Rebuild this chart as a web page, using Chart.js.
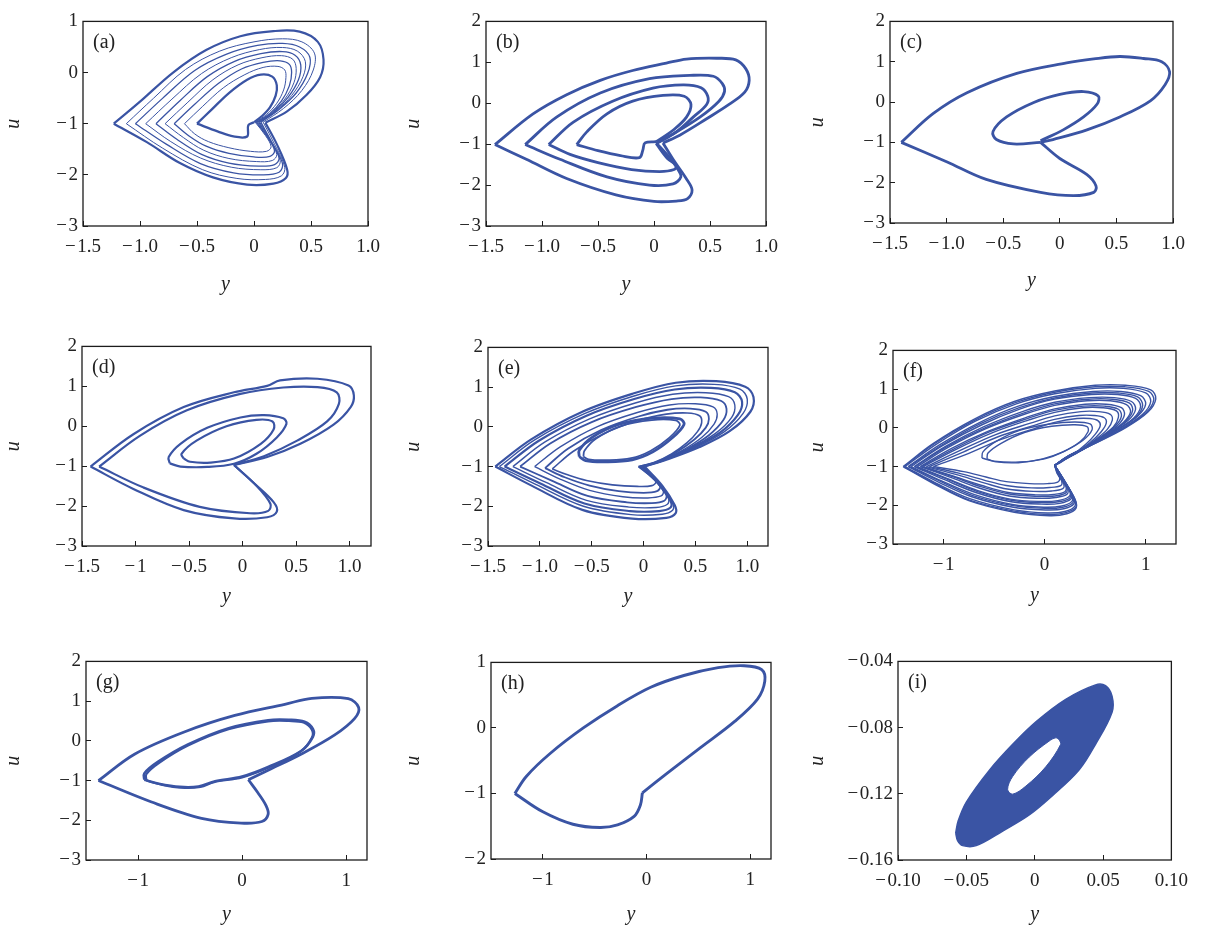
<!DOCTYPE html>
<html>
<head>
<meta charset="utf-8">
<script src="https://cdn.jsdelivr.net/npm/chart.js@4.4.1/dist/chart.umd.min.js"></script>
<style>
  html, body { margin: 0; padding: 0; background: #fff; }
  body { width: 1208px; height: 926px; position: relative; overflow: hidden; }
  canvas { position: absolute; }
</style>
</head>
<body>
<script>
// ---- data: (y, u) points along each trajectory ----

// (a)
const aUpper = [
  [[-1.23,-1.0],[-1.0,-0.57],[-0.71,0.0],[-0.42,0.44],[-0.12,0.71],[0.17,0.81],[0.40,0.80],[0.56,0.60],[0.61,0.25],[0.58,-0.09],[0.46,-0.44],[0.29,-0.76],[0.10,-0.98]],
  [[-1.12,-1.0],[-0.88,-0.5],[-0.6,0.06],[-0.3,0.42],[0.0,0.6],[0.25,0.66],[0.42,0.6],[0.53,0.38],[0.52,0.05],[0.42,-0.35],[0.26,-0.7],[0.08,-0.97]],
  [[-1.04,-1.0],[-0.8,-0.5],[-0.52,0.04],[-0.24,0.36],[0.03,0.53],[0.25,0.57],[0.4,0.5],[0.49,0.3],[0.47,-0.02],[0.37,-0.4],[0.22,-0.72],[0.06,-0.97]],
  [[-0.95,-1.0],[-0.72,-0.52],[-0.46,-0.02],[-0.2,0.29],[0.05,0.45],[0.25,0.49],[0.38,0.42],[0.45,0.22],[0.43,-0.08],[0.33,-0.45],[0.2,-0.74],[0.05,-0.97]],
  [[-0.86,-1.0],[-0.65,-0.55],[-0.41,-0.08],[-0.17,0.22],[0.06,0.37],[0.25,0.41],[0.36,0.34],[0.41,0.15],[0.39,-0.14],[0.3,-0.48],[0.18,-0.76],[0.04,-0.97]],
  [[-0.78,-1.0],[-0.58,-0.58],[-0.36,-0.14],[-0.14,0.15],[0.07,0.29],[0.24,0.33],[0.34,0.26],[0.37,0.08],[0.35,-0.2],[0.27,-0.52],[0.16,-0.78],[0.03,-0.97]],
  [[-0.7,-1.0],[-0.52,-0.62],[-0.31,-0.21],[-0.11,0.07],[0.08,0.2],[0.23,0.23],[0.31,0.16],[0.33,0.0],[0.31,-0.26],[0.24,-0.56],[0.14,-0.8],[0.02,-0.97]],
  [[-0.61,-1.0],[-0.45,-0.66],[-0.27,-0.3],[-0.08,-0.04],[0.08,0.1],[0.21,0.12],[0.27,0.05],[0.28,-0.1],[0.26,-0.34],[0.2,-0.6],[0.11,-0.82],[0.01,-0.97]],
  [[-0.5,-1.0],[-0.37,-0.72],[-0.22,-0.4],[-0.06,-0.14],[0.06,-0.04],[0.16,-0.08],[0.2,-0.25],[0.19,-0.45],[0.14,-0.68],[0.07,-0.85],[0.0,-0.97]]
];
const aLower = [
  [[0.10,-0.98],[0.20,-1.40],[0.29,-1.89],[0.28,-2.06],[0.17,-2.17],[-0.06,-2.19],[-0.36,-2.05],[-0.65,-1.77],[-0.94,-1.36],[-1.23,-1.0]],
  [[0.08,-0.97],[0.18,-1.4],[0.27,-1.85],[0.24,-2.02],[0.1,-2.09],[-0.15,-2.07],[-0.45,-1.9],[-0.8,-1.48],[-1.12,-1.0]],
  [[0.06,-0.97],[0.16,-1.38],[0.25,-1.78],[0.22,-1.95],[0.08,-2.0],[-0.18,-1.96],[-0.47,-1.78],[-0.77,-1.4],[-1.04,-1.0]],
  [[0.05,-0.97],[0.15,-1.35],[0.23,-1.72],[0.2,-1.86],[0.06,-1.9],[-0.2,-1.85],[-0.47,-1.67],[-0.73,-1.35],[-0.95,-1.0]],
  [[0.04,-0.97],[0.14,-1.32],[0.22,-1.67],[0.18,-1.8],[0.04,-1.83],[-0.22,-1.77],[-0.46,-1.6],[-0.68,-1.3],[-0.86,-1.0]],
  [[0.03,-0.97],[0.13,-1.3],[0.2,-1.6],[0.16,-1.72],[0.02,-1.74],[-0.22,-1.68],[-0.44,-1.52],[-0.62,-1.27],[-0.78,-1.0]],
  [[0.02,-0.97],[0.12,-1.27],[0.18,-1.53],[0.14,-1.64],[0.0,-1.65],[-0.22,-1.58],[-0.42,-1.44],[-0.57,-1.24],[-0.7,-1.0]],
  [[0.01,-0.97],[0.1,-1.23],[0.15,-1.45],[0.11,-1.54],[-0.03,-1.54],[-0.22,-1.47],[-0.4,-1.35],[-0.52,-1.2],[-0.61,-1.0]],
  [[0.0,-0.97],[-0.05,-1.03],[-0.06,-1.25],[-0.18,-1.25],[-0.32,-1.15],[-0.5,-1.0]]
];

// (b)
const bUpper = [
  [[-1.42,-1.01],[-1.08,-0.26],[-0.78,0.21],[-0.48,0.56],[-0.19,0.8],[0.11,0.98],[0.29,1.08],[0.56,1.1],[0.73,1.06],[0.82,0.84],[0.85,0.56],[0.81,0.27],[0.67,-0.03],[0.47,-0.38],[0.23,-0.78],[0.08,-0.97]],
  [[-1.15,-1.01],[-0.87,-0.34],[-0.48,0.25],[-0.04,0.6],[0.32,0.68],[0.53,0.66],[0.61,0.48],[0.63,0.29],[0.58,0.05],[0.41,-0.34],[0.17,-0.75],[0.02,-0.97]],
  [[-0.94,-1.01],[-0.72,-0.46],[-0.37,0.05],[-0.01,0.37],[0.26,0.45],[0.42,0.38],[0.48,0.17],[0.47,-0.03],[0.35,-0.34],[0.2,-0.7],[0.02,-0.99]],
  [[-0.69,-1.01],[-0.6,-0.7],[-0.42,-0.26],[-0.19,0.05],[0.08,0.19],[0.27,0.17],[0.33,-0.03],[0.29,-0.34],[0.17,-0.66],[0.02,-0.94]]
];
const bLower = [
  [[0.08,-0.97],[0.17,-1.37],[0.29,-1.85],[0.34,-2.12],[0.3,-2.33],[0.2,-2.39],[0.0,-2.4],[-0.34,-2.24],[-0.78,-1.84],[-1.14,-1.37],[-1.42,-1.01]],
  [[0.02,-0.97],[0.13,-1.3],[0.21,-1.6],[0.24,-1.8],[0.17,-1.97],[-0.04,-2.0],[-0.42,-1.8],[-0.84,-1.37],[-1.15,-1.01]],
  [[0.02,-0.99],[0.12,-1.35],[0.2,-1.52],[0.18,-1.62],[0.05,-1.67],[-0.2,-1.62],[-0.5,-1.45],[-0.75,-1.25],[-0.94,-1.01]],
  [[0.02,-0.94],[-0.08,-0.97],[-0.1,-1.15],[-0.13,-1.33],[-0.3,-1.28],[-0.5,-1.16],[-0.69,-1.01]]
];

// (c)
const cUpper = [
  [[-1.4,-1.0],[-1.12,-0.29],[-0.82,0.23],[-0.38,0.71],[0.06,0.97],[0.3,1.07],[0.53,1.13],[0.74,1.08],[0.9,1.0],[0.97,0.75],[0.93,0.43],[0.8,0.03],[0.53,-0.37],[0.24,-0.69],[-0.06,-0.93],[-0.17,-1.0]]
];
const cLower = [
  [[-0.17,-1.0],[0.0,-1.4],[0.24,-1.8],[0.32,-2.08],[0.3,-2.24],[0.12,-2.32],[-0.17,-2.24],[-0.65,-1.92],[-1.0,-1.48],[-1.4,-1.0]]
];
const cInner = [
  [[-0.17,-1.0],[-0.41,-1.04],[-0.56,-0.93],[-0.59,-0.73],[-0.47,-0.37],[-0.23,-0.01],[0.0,0.19],[0.21,0.26],[0.34,0.15],[0.33,-0.05],[0.21,-0.37],[0.03,-0.69],[-0.17,-0.96]]
];

// (d)
const dUpper = [
  [[-1.42,-1.01],[-1.02,-0.2],[-0.55,0.48],[-0.08,0.85],[0.23,1.01],[0.35,1.15],[0.7,1.19],[0.99,1.02],[1.04,0.77],[1.01,0.48],[0.85,0.04],[0.54,-0.44],[0.23,-0.77],[-0.08,-0.97]],
  [[-1.34,-1.01],[-0.96,-0.24],[-0.52,0.4],[-0.02,0.81],[0.38,0.97],[0.7,0.98],[0.88,0.85],[0.9,0.56],[0.79,0.12],[0.51,-0.36],[0.2,-0.75],[-0.08,-0.97]]
];
const dLower = [
  [[-0.08,-0.97],[0.1,-1.41],[0.29,-1.9],[0.32,-2.14],[0.23,-2.28],[-0.08,-2.31],[-0.55,-2.1],[-1.02,-1.57],[-1.42,-1.01]],
  [[-0.08,-0.97],[0.13,-1.49],[0.26,-1.94],[0.24,-2.12],[0.07,-2.18],[-0.4,-2.02],[-0.93,-1.53],[-1.34,-1.01]]
];
const dInner = [
  [[-0.68,-0.93],[-0.69,-0.77],[-0.58,-0.44],[-0.33,-0.04],[-0.02,0.22],[0.2,0.28],[0.38,0.2],[0.41,0.06],[0.32,-0.28],[0.13,-0.69],[-0.08,-0.94],[-0.33,-1.02],[-0.58,-1.01],[-0.68,-0.93]],
  [[-0.55,-0.81],[-0.57,-0.69],[-0.43,-0.36],[-0.15,0.0],[0.13,0.16],[0.28,0.12],[0.29,-0.08],[0.17,-0.44],[-0.08,-0.81],[-0.3,-0.91],[-0.49,-0.89],[-0.55,-0.81]]
];

// (e)
const eUpper = [
  [[-1.43,-1.0],[-1.08,-0.31],[-0.59,0.38],[-0.11,0.83],[0.31,1.11],[0.7,1.15],[0.98,1.01],[1.06,0.75],[1.03,0.38],[0.83,-0.11],[0.54,-0.51],[0.22,-0.83],[0.01,-1.0]],
  [[-1.39,-1.0],[-1.05,-0.33],[-0.57,0.33],[-0.1,0.77],[0.31,1.03],[0.68,1.07],[0.93,0.95],[1.0,0.7],[0.96,0.34],[0.78,-0.12],[0.5,-0.52],[0.2,-0.83],[0.0,-1.0]],
  [[-1.34,-1.0],[-1.01,-0.35],[-0.55,0.28],[-0.09,0.7],[0.3,0.94],[0.65,0.98],[0.88,0.87],[0.95,0.63],[0.91,0.3],[0.74,-0.14],[0.47,-0.53],[0.19,-0.84],[0.0,-1.0]],
  [[-1.26,-1.0],[-0.95,-0.38],[-0.52,0.2],[-0.08,0.6],[0.28,0.82],[0.6,0.86],[0.82,0.76],[0.88,0.55],[0.85,0.24],[0.69,-0.17],[0.44,-0.55],[0.18,-0.85],[-0.01,-1.0]],
  [[-1.19,-1.0],[-0.9,-0.42],[-0.5,0.12],[-0.07,0.5],[0.27,0.7],[0.55,0.74],[0.75,0.65],[0.8,0.45],[0.77,0.17],[0.63,-0.21],[0.41,-0.57],[0.17,-0.86],[-0.02,-1.0]],
  [[-1.05,-1.0],[-0.8,-0.5],[-0.45,0.0],[-0.06,0.36],[0.25,0.55],[0.5,0.58],[0.67,0.5],[0.71,0.32],[0.68,0.07],[0.56,-0.27],[0.37,-0.6],[0.15,-0.87],[-0.03,-1.0]],
  [[-0.95,-1.04],[-0.73,-0.55],[-0.41,-0.08],[-0.05,0.26],[0.23,0.43],[0.45,0.46],[0.6,0.38],[0.63,0.2],[0.6,-0.02],[0.49,-0.32],[0.32,-0.63],[0.13,-0.88],[-0.04,-1.0]],
  [[-0.88,-1.06],[-0.68,-0.62],[-0.38,-0.17],[-0.04,0.17],[0.22,0.32],[0.42,0.35],[0.54,0.28],[0.56,0.1],[0.52,-0.12],[0.42,-0.4],[0.27,-0.68],[0.1,-0.9],[-0.05,-1.0]]
];
const eLower = [
  [[0.01,-1.0],[0.18,-1.48],[0.3,-1.97],[0.31,-2.17],[0.22,-2.29],[-0.11,-2.31],[-0.59,-2.09],[-1.08,-1.48],[-1.43,-1.0]],
  [[0.0,-1.0],[0.16,-1.47],[0.28,-1.93],[0.28,-2.1],[0.18,-2.2],[-0.12,-2.21],[-0.58,-2.0],[-1.04,-1.45],[-1.39,-1.0]],
  [[0.0,-1.0],[0.15,-1.44],[0.26,-1.87],[0.26,-2.03],[0.15,-2.12],[-0.13,-2.12],[-0.57,-1.93],[-1.0,-1.42],[-1.34,-1.0]],
  [[-0.01,-1.0],[0.14,-1.4],[0.24,-1.8],[0.23,-1.95],[0.12,-2.03],[-0.14,-2.02],[-0.55,-1.85],[-0.94,-1.4],[-1.26,-1.0]],
  [[-0.02,-1.0],[0.12,-1.37],[0.22,-1.72],[0.2,-1.86],[0.08,-1.92],[-0.16,-1.9],[-0.54,-1.74],[-0.88,-1.36],[-1.19,-1.0]],
  [[-0.03,-1.0],[0.1,-1.32],[0.19,-1.62],[0.17,-1.74],[0.04,-1.79],[-0.2,-1.76],[-0.52,-1.6],[-0.8,-1.32],[-1.05,-1.0]],
  [[-0.04,-1.0],[0.08,-1.27],[0.16,-1.5],[0.13,-1.62],[0.0,-1.66],[-0.24,-1.62],[-0.52,-1.48],[-0.76,-1.27],[-0.95,-1.04]],
  [[-0.05,-1.0],[0.05,-1.2],[0.12,-1.38],[0.08,-1.48],[-0.06,-1.5],[-0.3,-1.46],[-0.55,-1.35],[-0.74,-1.2],[-0.88,-1.06]]
];
const eInner = [
  [[-0.62,-0.75],[-0.62,-0.59],[-0.5,-0.27],[-0.24,0.06],[0.09,0.22],[0.35,0.2],[0.39,0.06],[0.28,-0.27],[0.09,-0.63],[-0.11,-0.83],[-0.37,-0.88],[-0.56,-0.85],[-0.62,-0.75]],
  [[-0.58,-0.75],[-0.57,-0.6],[-0.46,-0.3],[-0.22,0.02],[0.08,0.17],[0.31,0.16],[0.35,0.04],[0.25,-0.27],[0.07,-0.6],[-0.12,-0.79],[-0.36,-0.84],[-0.53,-0.82],[-0.58,-0.75]]
];

// (f)
const fUpper = [
  [[-1.4,-1.0],[-1.1,-0.4],[-0.7,0.22],[-0.3,0.68],[0.1,0.95],[0.5,1.1],[0.8,1.1],[1.05,0.98],[1.1,0.75],[1.02,0.4],[0.8,0.0],[0.5,-0.4],[0.25,-0.7],[0.1,-0.97]],
  [[-1.39,-1.0],[-1.09,-0.41],[-0.69,0.2],[-0.29,0.65],[0.1,0.92],[0.5,1.06],[0.79,1.06],[1.03,0.94],[1.08,0.72],[1.0,0.38],[0.78,-0.01],[0.49,-0.41],[0.25,-0.71],[0.1,-0.97]],
  [[-1.38,-1.0],[-1.07,-0.42],[-0.68,0.18],[-0.28,0.62],[0.1,0.88],[0.5,1.02],[0.78,1.02],[1.0,0.9],[1.05,0.68],[0.97,0.35],[0.76,-0.02],[0.48,-0.42],[0.24,-0.72],[0.1,-0.97]],
  [[-1.35,-1.0],[-1.04,-0.44],[-0.65,0.13],[-0.26,0.56],[0.1,0.81],[0.48,0.94],[0.75,0.94],[0.95,0.83],[1.0,0.61],[0.92,0.3],[0.72,-0.05],[0.46,-0.44],[0.23,-0.74],[0.1,-0.97]],
  [[-1.34,-1.0],[-1.02,-0.45],[-0.64,0.1],[-0.25,0.52],[0.1,0.77],[0.47,0.9],[0.73,0.9],[0.92,0.8],[0.97,0.58],[0.9,0.27],[0.7,-0.07],[0.45,-0.45],[0.22,-0.75],[0.1,-0.97]],
  [[-1.32,-1.0],[-1.01,-0.46],[-0.62,0.08],[-0.24,0.49],[0.1,0.74],[0.46,0.86],[0.72,0.86],[0.9,0.76],[0.95,0.55],[0.88,0.25],[0.69,-0.09],[0.44,-0.47],[0.22,-0.76],[0.1,-0.97]],
  [[-1.29,-1.0],[-0.98,-0.48],[-0.6,0.03],[-0.22,0.42],[0.1,0.66],[0.44,0.78],[0.69,0.78],[0.86,0.68],[0.9,0.48],[0.83,0.2],[0.65,-0.13],[0.42,-0.5],[0.21,-0.78],[0.1,-0.97]],
  [[-1.28,-1.0],[-0.97,-0.49],[-0.59,0.0],[-0.21,0.38],[0.1,0.62],[0.43,0.74],[0.67,0.74],[0.84,0.64],[0.87,0.44],[0.8,0.17],[0.63,-0.15],[0.41,-0.51],[0.2,-0.79],[0.1,-0.97]],
  [[-1.26,-1.0],[-0.95,-0.5],[-0.58,-0.02],[-0.2,0.35],[0.1,0.58],[0.42,0.7],[0.65,0.7],[0.81,0.6],[0.85,0.41],[0.78,0.14],[0.61,-0.18],[0.4,-0.53],[0.2,-0.8],[0.1,-0.97]],
  [[-1.23,-1.0],[-0.92,-0.53],[-0.55,-0.08],[-0.18,0.27],[0.1,0.49],[0.4,0.61],[0.61,0.61],[0.76,0.52],[0.79,0.34],[0.73,0.08],[0.57,-0.23],[0.37,-0.56],[0.19,-0.82],[0.1,-0.97]],
  [[-1.22,-1.0],[-0.9,-0.55],[-0.54,-0.1],[-0.17,0.24],[0.1,0.45],[0.39,0.56],[0.59,0.56],[0.73,0.48],[0.76,0.3],[0.7,0.05],[0.55,-0.25],[0.36,-0.58],[0.18,-0.83],[0.1,-0.97]],
  [[-1.2,-1.0],[-0.88,-0.56],[-0.52,-0.13],[-0.16,0.2],[0.1,0.4],[0.38,0.52],[0.57,0.52],[0.71,0.44],[0.73,0.27],[0.68,0.02],[0.53,-0.28],[0.35,-0.6],[0.18,-0.84],[0.1,-0.97]],
  [[-1.17,-1.0],[-0.84,-0.59],[-0.49,-0.18],[-0.14,0.12],[0.1,0.31],[0.36,0.42],[0.53,0.42],[0.65,0.35],[0.67,0.2],[0.62,-0.04],[0.49,-0.33],[0.33,-0.63],[0.17,-0.86],[0.1,-0.97]],
  [[-1.14,-1.0],[-0.8,-0.62],[-0.46,-0.23],[-0.12,0.05],[0.1,0.22],[0.34,0.32],[0.49,0.32],[0.59,0.26],[0.61,0.12],[0.56,-0.1],[0.45,-0.38],[0.3,-0.66],[0.16,-0.88],[0.1,-0.97]],
  [[-1.1,-1.0],[-0.75,-0.66],[-0.43,-0.3],[-0.1,-0.02],[0.1,0.14],[0.32,0.24],[0.45,0.24],[0.53,0.18],[0.55,0.05],[0.5,-0.17],[0.41,-0.42],[0.28,-0.69],[0.16,-0.89],[0.1,-0.97]]
];
const fLower = [
  [[0.1,-0.97],[0.2,-1.4],[0.3,-1.85],[0.31,-2.08],[0.22,-2.22],[0.05,-2.27],[-0.3,-2.18],[-0.75,-1.88],[-1.1,-1.44],[-1.4,-1.0]],
  [[0.1,-0.97],[0.2,-1.39],[0.3,-1.84],[0.31,-2.05],[0.21,-2.19],[0.04,-2.24],[-0.3,-2.15],[-0.75,-1.86],[-1.09,-1.43],[-1.39,-1.0]],
  [[0.1,-0.97],[0.2,-1.38],[0.29,-1.82],[0.3,-2.02],[0.2,-2.16],[0.03,-2.2],[-0.3,-2.12],[-0.74,-1.83],[-1.08,-1.42],[-1.38,-1.0]],
  [[0.1,-0.97],[0.19,-1.36],[0.28,-1.77],[0.29,-1.96],[0.19,-2.09],[0.01,-2.12],[-0.31,-2.05],[-0.72,-1.78],[-1.05,-1.4],[-1.35,-1.0]],
  [[0.1,-0.97],[0.19,-1.35],[0.27,-1.74],[0.28,-1.93],[0.18,-2.05],[0.0,-2.08],[-0.31,-2.01],[-0.71,-1.75],[-1.03,-1.38],[-1.34,-1.0]],
  [[0.1,-0.97],[0.19,-1.34],[0.27,-1.72],[0.27,-1.9],[0.17,-2.02],[-0.01,-2.05],[-0.32,-1.98],[-0.7,-1.72],[-1.02,-1.37],[-1.32,-1.0]],
  [[0.1,-0.97],[0.18,-1.32],[0.26,-1.67],[0.26,-1.84],[0.15,-1.95],[-0.03,-1.97],[-0.33,-1.91],[-0.68,-1.67],[-0.99,-1.34],[-1.29,-1.0]],
  [[0.1,-0.97],[0.18,-1.31],[0.25,-1.64],[0.25,-1.81],[0.14,-1.91],[-0.04,-1.93],[-0.33,-1.87],[-0.67,-1.64],[-0.97,-1.32],[-1.28,-1.0]],
  [[0.1,-0.97],[0.17,-1.3],[0.25,-1.62],[0.24,-1.78],[0.13,-1.88],[-0.05,-1.9],[-0.34,-1.84],[-0.66,-1.62],[-0.96,-1.31],[-1.26,-1.0]],
  [[0.1,-0.97],[0.16,-1.28],[0.23,-1.57],[0.22,-1.72],[0.11,-1.8],[-0.07,-1.82],[-0.35,-1.76],[-0.64,-1.56],[-0.93,-1.28],[-1.23,-1.0]],
  [[0.1,-0.97],[0.15,-1.26],[0.22,-1.54],[0.21,-1.68],[0.1,-1.76],[-0.08,-1.77],[-0.35,-1.71],[-0.63,-1.52],[-0.91,-1.26],[-1.22,-1.0]],
  [[0.1,-0.97],[0.15,-1.25],[0.21,-1.51],[0.2,-1.65],[0.09,-1.72],[-0.09,-1.73],[-0.36,-1.67],[-0.62,-1.49],[-0.9,-1.25],[-1.2,-1.0]],
  [[0.1,-0.97],[0.14,-1.22],[0.19,-1.45],[0.18,-1.57],[0.07,-1.63],[-0.11,-1.64],[-0.37,-1.58],[-0.6,-1.42],[-0.87,-1.21],[-1.17,-1.0]],
  [[0.1,-0.97],[0.13,-1.19],[0.17,-1.38],[0.16,-1.49],[0.05,-1.54],[-0.13,-1.55],[-0.38,-1.49],[-0.6,-1.35],[-0.85,-1.17],[-1.14,-1.0]],
  [[0.1,-0.97],[0.12,-1.15],[0.15,-1.3],[0.13,-1.4],[0.03,-1.44],[-0.15,-1.44],[-0.38,-1.39],[-0.58,-1.27],[-0.8,-1.13],[-1.1,-1.0]]
];
const fInner = [
  [[-0.62,-0.78],[-0.61,-0.62],[-0.48,-0.35],[-0.24,-0.06],[0.05,0.1],[0.3,0.15],[0.45,0.1],[0.47,-0.05],[0.38,-0.32],[0.2,-0.6],[0.0,-0.8],[-0.25,-0.88],[-0.5,-0.86],[-0.62,-0.78]],
  [[-0.57,-0.8],[-0.56,-0.65],[-0.43,-0.4],[-0.2,-0.12],[0.07,0.04],[0.3,0.08],[0.42,0.03],[0.43,-0.1],[0.35,-0.36],[0.18,-0.62],[-0.02,-0.8],[-0.26,-0.9],[-0.48,-0.88],[-0.57,-0.8]]
];

// (g)
const gUpper = [
  [[-1.38,-1.0],[-1.03,-0.33],[-0.55,0.23],[-0.07,0.64],[0.41,0.92],[0.67,1.07],[1.02,1.06],[1.12,0.84],[1.08,0.56],[0.89,0.15],[0.57,-0.33],[0.25,-0.74],[0.06,-0.98]]
];
const gLower = [
  [[0.06,-0.98],[0.15,-1.3],[0.23,-1.63],[0.25,-1.85],[0.19,-2.03],[-0.01,-2.07],[-0.39,-1.95],[-0.87,-1.54],[-1.38,-1.0]]
];
const gInner = [
  [[-0.94,-0.98],[-0.8,-1.08],[-0.6,-1.16],[-0.42,-1.15],[-0.26,-1.02],[0.0,-0.9],[0.25,-0.66],[0.57,-0.25],[0.68,0.1],[0.68,0.3],[0.6,0.48],[0.45,0.53],[0.25,0.52],[-0.13,0.32],[-0.52,-0.09],[-0.81,-0.53],[-0.94,-0.82],[-0.94,-0.98]],
  [[-0.92,-1.0],[-0.78,-1.1],[-0.58,-1.18],[-0.4,-1.16],[-0.27,-1.04],[0.0,-0.92],[0.25,-0.68],[0.56,-0.27],[0.67,0.08],[0.67,0.28],[0.59,0.46],[0.45,0.5],[0.25,0.49],[-0.13,0.29],[-0.52,-0.12],[-0.8,-0.56],[-0.92,-0.84],[-0.92,-1.0]]
];

// (h)
const hUpper = [
  [[-1.27,-1.0],[-1.16,-0.74],[-0.93,-0.39],[-0.61,0.0],[-0.28,0.34],[0.04,0.62],[0.36,0.8],[0.69,0.92],[0.94,0.95],[1.11,0.89],[1.14,0.71],[1.07,0.44],[0.85,0.1],[0.52,-0.3],[0.2,-0.69],[-0.04,-0.99]]
];
const hLower = [
  [[-0.04,-0.99],[-0.06,-1.18],[-0.12,-1.35],[-0.28,-1.48],[-0.45,-1.52],[-0.71,-1.47],[-1.0,-1.28],[-1.27,-1.0]]
];

// (i) filled ring: outer rim and the hole
const iOuter = [[-0.0578,-0.1437],[-0.0561,-0.1367],[-0.05,-0.125],[-0.0331,-0.1057],[-0.0161,-0.0901],[0.0009,-0.0765],[0.0227,-0.0629],[0.0445,-0.0542],[0.0518,-0.0547],[0.0566,-0.061],[0.0566,-0.0707],[0.0445,-0.0901],[0.0324,-0.1057],[0.013,-0.1211],[-0.004,-0.1328],[-0.0234,-0.1425],[-0.0428,-0.1513],[-0.0527,-0.1513],[-0.0564,-0.1483],[-0.0578,-0.1437]];
const iHole = [[0.0178,-0.0872],[0.019,-0.0901],[0.0081,-0.1037],[-0.0064,-0.1153],[-0.0161,-0.1202],[-0.0198,-0.1173],[-0.0161,-0.1095],[-0.004,-0.0978],[0.0105,-0.0882],[0.0154,-0.0862],[0.0178,-0.0872]];

// ---- tick values and labels ----
const M = '\u2212\u200A';
const ticksX15 = [-1.5, -1.0, -0.5, 0, 0.5, 1.0];
const labelsX15 = [M + '1.5', M + '1.0', M + '0.5', '0', '0.5', '1.0'];
const labelsX15d = [M + '1.5', M + '1', M + '0.5', '0', '0.5', '1.0'];
const ticksX1 = [-1, 0, 1];
const labelsX1 = [M + '1', '0', '1'];
const ticksXi = [-0.1, -0.05, 0, 0.05, 0.1];
const labelsXi = [M + '0.10', M + '0.05', '0', '0.05', '0.10'];
const ticksU3 = [-3, -2, -1, 0, 1, 2];
const labelsU3 = [M + '3', M + '2', M + '1', '0', '1', '2'];
const ticksUh = [-2, -1, 0, 1];
const labelsUh = [M + '2', M + '1', '0', '1'];
const ticksUi = [-0.16, -0.12, -0.08, -0.04];
const labelsUi = [M + '0.16', M + '0.12', M + '0.08', M + '0.04'];

// ---- styling / layout ----
const BLUE = '#3a54a4';
const INK = '#1c1c1c';
const SERIF = '"Liberation Serif", "DejaVu Serif", serif';

const aW = [2.2, 1, 1.3, 1, 1.3, 1, 1.3, 1, 2.3];
const eW = [2.2, 1.4, 2.2, 1.4, 1.8, 1.4, 1.8, 1.6];

function lines(traces, widths) {
  return traces.map((t, k) => ({
    data: t.map(p => ({ x: p[0], y: p[1] })),
    showLine: true,
    borderColor: BLUE,
    borderWidth: Array.isArray(widths) ? widths[k] : widths,
    pointRadius: 0,
    tension: 0.35,
    fill: false
  }));
}

const panels = [
  { tag: '(a)', box: [83, 14, 368, 226], col: 2, gap: 59, x: [-1.5, 1.0], u: [-3, 1],
    xt: ticksX15, xl: labelsX15, ut: ticksU3.slice(0, 5), ul: labelsU3.slice(0, 5),
    datasets: [...lines(aUpper, aW), ...lines(aLower, aW)] },
  { tag: '(b)', box: [486, 14, 766, 226], col: 402, gap: 59, x: [-1.5, 1.0], u: [-3, 2],
    xt: ticksX15, xl: labelsX15, ut: ticksU3, ul: labelsU3,
    datasets: [...lines(bUpper, 2.8), ...lines(bLower, 2.8)] },
  { tag: '(c)', box: [890, 14, 1173, 223], col: 806, gap: 58, x: [-1.5, 1.0], u: [-3, 2],
    xt: ticksX15, xl: labelsX15, ut: ticksU3, ul: labelsU3,
    datasets: [...lines(cUpper, 2.8), ...lines(cLower, 2.8), ...lines(cInner, 2.8)] },
  { tag: '(d)', box: [82, 339, 371, 546], col: 2, gap: 51, x: [-1.5, 1.2], u: [-3, 2],
    xt: ticksX15, xl: labelsX15d, ut: ticksU3, ul: labelsU3,
    datasets: [...lines(dUpper, 2.2), ...lines(dLower, 2.2), ...lines(dInner, 2.2)] },
  { tag: '(e)', box: [488, 340, 768, 546], col: 402, gap: 51, x: [-1.5, 1.2], u: [-3, 2],
    xt: ticksX15, xl: labelsX15, ut: ticksU3, ul: labelsU3,
    datasets: [...lines(eUpper, eW), ...lines(eLower, eW), ...lines(eInner, [2.8, 1.8])] },
  { tag: '(f)', box: [893, 343, 1176, 544], col: 806, gap: 52, x: [-1.5, 1.3], u: [-3, 2],
    xt: ticksX1, xl: labelsX1, ut: ticksU3, ul: labelsU3,
    datasets: [...lines(fUpper, 1.4), ...lines(fLower, 1.4), ...lines(fInner, 1.4)] },
  { tag: '(g)', box: [86, 654, 367, 860], col: 2, gap: 55, x: [-1.5, 1.2], u: [-3, 2],
    xt: ticksX1, xl: labelsX1, ut: ticksU3, ul: labelsU3,
    datasets: [...lines(gUpper, 2.8), ...lines(gLower, 2.8), ...lines(gInner, [2.6, 2.2])] },
  { tag: '(h)', box: [491, 655, 771, 859], col: 402, gap: 56, x: [-1.5, 1.2], u: [-2, 1],
    xt: ticksX1, xl: labelsX1, ut: ticksUh, ul: labelsUh,
    datasets: [...lines(hUpper, 2.9), ...lines(hLower, 2.9)] },
  { tag: '(i)', box: [898, 654, 1173, 860], col: 806, gap: 55, x: [-0.1, 0.1], u: [-0.16, -0.04],
    xt: ticksXi, xl: labelsXi, ut: ticksUi, ul: labelsUi,
    datasets: [
      { data: iHole.map(p => ({ x: p[0], y: p[1] })), showLine: true, pointRadius: 0, tension: 0.35,
        borderColor: BLUE, borderWidth: 1, backgroundColor: '#ffffff', fill: 'shape', order: 0 },
      { data: iOuter.map(p => ({ x: p[0], y: p[1] })), showLine: true, pointRadius: 0, tension: 0.35,
        borderColor: BLUE, borderWidth: 1.5, backgroundColor: BLUE, fill: 'shape', order: 1 }
    ] }
];

const framePlugin = {
  id: 'frame',
  afterDatasetsDraw(chart, args, opts) {
    const { ctx, chartArea: a } = chart;
    ctx.save();
    ctx.strokeStyle = INK;
    ctx.lineWidth = 1.3;
    ctx.strokeRect(a.left, a.top, a.right - a.left, a.bottom - a.top);
    ctx.fillStyle = '#222';
    ctx.font = '20px ' + SERIF;
    ctx.textBaseline = 'middle';
    ctx.textAlign = 'left';
    ctx.fillText(opts.tag, a.left + 10, a.top + 21);
    ctx.restore();
  }
};

const TITLE_HALF = 12; // half of the title line height (20px * 1.2 / 2)

panels.forEach(p => {
  const [L, T, R, B] = p.box;
  const canvas = document.createElement('canvas');
  const w = R + 30 - p.col;
  const xAxisH = p.gap + TITLE_HALF;
  const h = (B - T) + 14 + xAxisH;
  canvas.width = w;
  canvas.height = h;
  canvas.style.left = p.col + 'px';
  canvas.style.top = (T - 14) + 'px';
  canvas.style.width = w + 'px';
  canvas.style.height = h + 'px';
  document.body.appendChild(canvas);

  const axisCommon = {
    type: 'linear',
    grid: { drawOnChartArea: false, drawTicks: true, tickLength: -5, color: INK, lineWidth: 1 },
    border: { display: false }
  };

  new Chart(canvas, {
    type: 'scatter',
    data: { datasets: p.datasets },
    options: {
      responsive: false,
      animation: false,
      events: [],
      layout: { padding: { top: 14, right: 30, left: 0, bottom: 0 } },
      plugins: { legend: { display: false }, tooltip: { enabled: false }, frame: { tag: p.tag } },
      scales: {
        x: {
          ...axisCommon,
          position: 'bottom',
          min: p.x[0], max: p.x[1],
          afterBuildTicks: s => { s.ticks = p.xt.map(v => ({ value: v })); },
          afterFit: s => { s.height = xAxisH; },
          ticks: { autoSkip: false, maxRotation: 0, padding: 15, color: '#222',
                   font: { family: SERIF, size: 19 }, callback: (v, i) => p.xl[i] },
          title: { display: true, text: 'y', color: '#222', padding: 0,
                   font: { family: SERIF, size: 20, style: 'italic' } }
        },
        y: {
          ...axisCommon,
          position: 'left',
          min: p.u[0], max: p.u[1],
          afterBuildTicks: s => { s.ticks = p.ut.map(v => ({ value: v })); },
          afterFit: s => { s.width = L - p.col; },
          ticks: { autoSkip: false, padding: 10, color: '#222',
                   font: { family: SERIF, size: 19 }, callback: (v, i) => p.ul[i] },
          title: { display: true, text: 'u', color: '#222', padding: 0,
                   font: { family: SERIF, size: 20, style: 'italic' } }
        }
      }
    },
    plugins: [framePlugin]
  });
});
</script>
</body>
</html>
